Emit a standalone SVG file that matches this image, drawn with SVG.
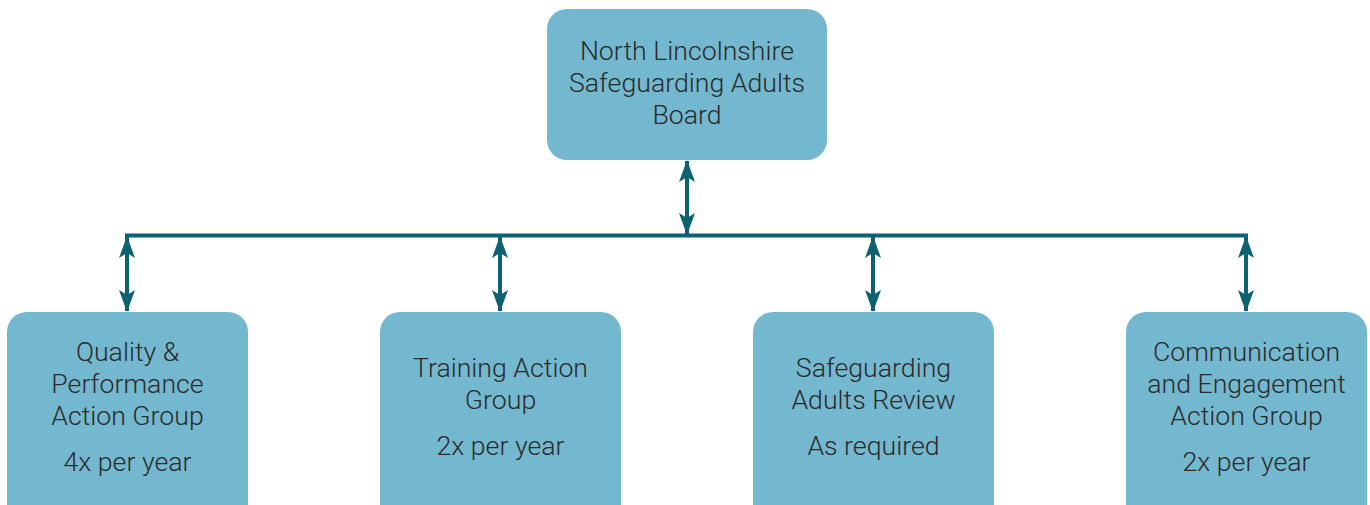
<svg xmlns="http://www.w3.org/2000/svg" width="1370" height="505" viewBox="0 0 1370 505">
<style>
.box{fill:#74b8cf;}
.t{font-family:Roboto,"Liberation Sans",sans-serif;font-weight:300;font-size:26.7px;fill:#2b2b2b;text-anchor:middle;}
.ln{stroke:#0d6170;stroke-width:4;fill:none;}
.hd{fill:#0d6170;}
</style>
<defs>
<marker id="ah" viewBox="0 0 22 16" refX="21" refY="8" markerWidth="22" markerHeight="16" markerUnits="userSpaceOnUse" orient="auto-start-reverse">
<path class="hd" d="M0,0 L22,8 L0,16 L5,8 Z"/>
</marker>
</defs>
<g id="connectors">
<line class="ln" x1="125" y1="235.5" x2="1248" y2="235.5"/>
<line class="ln" x1="687" y1="161" x2="687" y2="234" marker-start="url(#ah)" marker-end="url(#ah)"/>
<line class="ln" x1="127" y1="237" x2="127" y2="311" marker-start="url(#ah)" marker-end="url(#ah)"/>
<line class="ln" x1="500" y1="237" x2="500" y2="311" marker-start="url(#ah)" marker-end="url(#ah)"/>
<line class="ln" x1="873" y1="237" x2="873" y2="311" marker-start="url(#ah)" marker-end="url(#ah)"/>
<line class="ln" x1="1246" y1="237" x2="1246" y2="311" marker-start="url(#ah)" marker-end="url(#ah)"/>
</g>
<g id="board">
<rect class="box" x="547" y="9" width="280" height="151" rx="20"/>
<text class="t" x="687" y="60">North Lincolnshire</text>
<text class="t" x="687" y="92">Safeguarding Adults</text>
<text class="t" x="687" y="124">Board</text>
</g>
<g id="quality">
<rect class="box" x="7" y="312" width="241" height="215" rx="20"/>
<text class="t" x="127.5" y="361">Quality &amp;</text>
<text class="t" x="127.5" y="393">Performance</text>
<text class="t" x="127.5" y="425">Action Group</text>
<text class="t" x="127.5" y="471">4x per year</text>
</g>
<g id="training">
<rect class="box" x="380" y="312" width="241" height="215" rx="20"/>
<text class="t" x="500.5" y="377">Training Action</text>
<text class="t" x="500.5" y="409">Group</text>
<text class="t" x="500.5" y="455">2x per year</text>
</g>
<g id="review">
<rect class="box" x="753" y="312" width="241" height="215" rx="20"/>
<text class="t" x="873.5" y="377">Safeguarding</text>
<text class="t" x="873.5" y="409">Adults Review</text>
<text class="t" x="873.5" y="455">As required</text>
</g>
<g id="communication">
<rect class="box" x="1126" y="312" width="241" height="215" rx="20"/>
<text class="t" x="1246.5" y="361">Communication</text>
<text class="t" x="1246.5" y="393">and Engagement</text>
<text class="t" x="1246.5" y="425">Action Group</text>
<text class="t" x="1246.5" y="471">2x per year</text>
</g>
</svg>
